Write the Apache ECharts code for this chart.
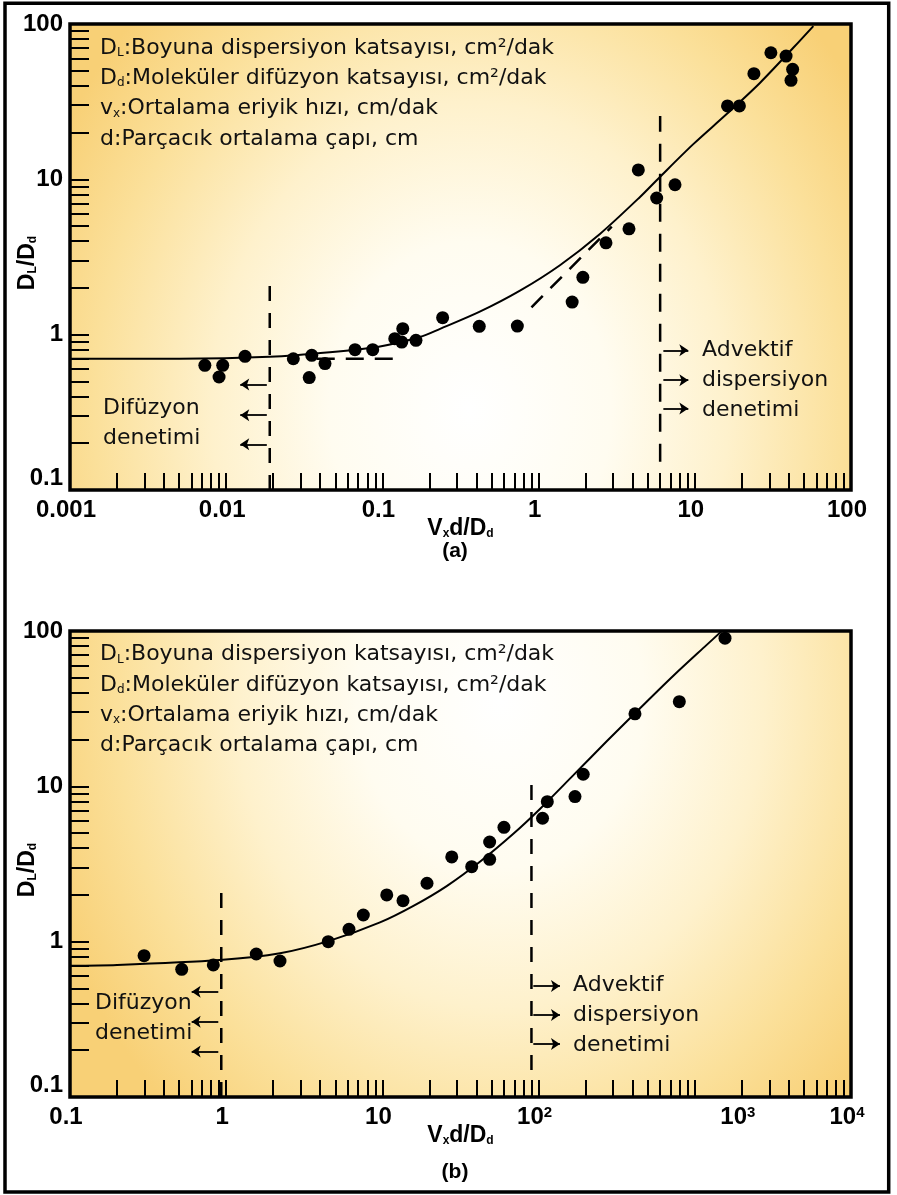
<!DOCTYPE html>
<html><head><meta charset="utf-8">
<script src="https://cdn.jsdelivr.net/npm/echarts@6/dist/echarts.min.js"></script>
<style>html,body{margin:0;padding:0;background:#fff}#c{width:897px;height:1195px}</style>
</head><body><div id="c"></div>
<script>
// ---------- tick labels ----------
const xTickLabelsA = ['0.001', '0.01', '0.1', '1', '10', '100'];
const xTickLabelsB = ['0.1', '1', '10', '10²', '10³', '10⁴'];
const yTickLabels = ['0.1', '1', '10', '100'];

// ---------- panel (a) ----------
const pointsA = [[0.0073,0.635],[0.0095,0.635],[0.0090,0.534],[0.0132,0.725],[0.0269,0.70],[0.0353,0.736],[0.0340,0.529],[0.0429,0.651],[0.0668,0.80],[0.0867,0.80],[0.120,0.943],[0.135,1.093],[0.133,0.896],[0.164,0.919],[0.243,1.286],[0.417,1.131],[0.731,1.136],[1.64,1.62],[1.92,2.34],[2.70,3.90],[3.79,4.80],[4.35,11.5],[5.70,7.58],[7.47,9.23],[16.2,29.7],[19.3,29.7],[23.9,47.9],[30.7,65.3],[38.4,62.2],[42.3,51.1],[41.3,43.4]];
const curveA = [[0.001,0.70],[0.005,0.70],[0.019,0.72],[0.046,0.77],[0.0965,0.84],[0.174,0.965],[0.234,1.09],[0.417,1.40],[0.76,1.92],[1.37,2.80],[2.47,4.45],[4.46,7.7],[6.0,10.4],[9.78,16.85],[16.0,26.3],[26.2,41.9],[42.7,70.3],[57.4,97]];
const diffusionLineA = [[0.019,0.1],[0.019,2.29]];
const advectionLineA = [[6.0,0.152],[6.0,25.6]];
const plateauLineA = [[0.038,0.70],[0.13,0.70]];
const slopeLineA = [[0.90,1.50],[2.94,4.96]];
const diffusionArrowsA = [[0.0182,0.0123,0.478],[0.0182,0.0123,0.303],[0.0182,0.0123,0.197]]; // [fromX,toX,y]
const advectionArrowsA = [[6.29,9.09,0.793],[6.29,9.09,0.509],[6.29,9.09,0.335]];

// ---------- panel (b) ----------
const pointsB = [[0.298,0.813],[0.519,0.664],[0.827,0.708],[1.558,0.833],[2.21,0.751],[4.50,1.0],[6.11,1.20],[7.55,1.485],[10.66,2.0],[13.55,1.837],[19.3,2.377],[27.8,3.51],[37.3,3.04],[48.6,3.39],[48.6,4.38],[60.0,5.45],[106,6.23],[113.7,7.97],[171,8.59],[193,11.96],[414,29.3],[796,35.1],[1561,89.9]];
const curveB = [[0.1,0.70],[0.2,0.708],[0.91,0.762],[2.21,0.842],[4.67,1.02],[9.65,1.33],[15.8,1.70],[25.8,2.28],[42.1,3.27],[68.9,4.95],[102,7.15],[167,11.8],[273,19.5],[446,31.8],[729,51.5],[1192,81.4],[1490,100]];
const diffusionLineB = [[0.93,0.1],[0.93,2.28]];
const advectionLineB = [[90,0.149],[90,10.2]];
const diffusionArrowsB = [[0.89,0.601,0.476],[0.89,0.601,0.305],[0.89,0.601,0.196]];
const advectionArrowsB = [[92.5,137,0.518],[92.5,137,0.337],[92.5,137,0.2195]];

// ---------- texts ----------
const legendTerms = [['D','L',':Boyuna dispersiyon katsayısı, cm²/dak'],['D','d',':Moleküler difüzyon katsayısı, cm²/dak'],['v','x',':Ortalama eriyik hızı, cm/dak'],['d','',':Parçacık ortalama çapı, cm']];
const diffusionText = ['Difüzyon', 'denetimi'];
const advectionText = ['Advektif', 'dispersiyon', 'denetimi'];
const panelTitles = ['(a)', '(b)'];

// ---------- helpers ----------
const BOLD = 'Liberation Sans';
const REG = 'DejaVu Sans';
function logTicks(lo, hi) {
  const out = [];
  for (let e = lo; e < hi; e++) for (let m = 1; m < 10; m++) out.push(+(m * Math.pow(10, e)).toPrecision(3));
  out.push(Math.pow(10, hi));
  return out;
}
function decades(lo, hi) { const out = []; for (let e = lo; e <= hi; e++) out.push(Math.pow(10, e)); return out; }

const nameRich = {
  m: {fontFamily: BOLD, fontWeight: 'bold', fontSize: 23, color: '#000'},
  s: {fontFamily: BOLD, fontWeight: 'bold', fontSize: 12, color: '#000', verticalAlign: 'bottom'}
};
const supDigit = {'²': '2', '³': '3', '⁴': '4'};

function xAxis(idx, lo, hi, labels) {
  return {
    type: 'log', logBase: 10, gridIndex: idx, min: Math.pow(10, lo), max: Math.pow(10, hi),
    axisLine: {show: false}, splitLine: {show: false}, minorTick: {show: false},
    axisTick: {show: true, inside: true, length: 17, lineStyle: {color: '#000', width: 2}, customValues: logTicks(lo, hi)},
    axisLabel: {
      customValues: decades(lo, hi), margin: 8, color: '#000', padding: [0, 8, 0, 0],
      fontFamily: BOLD, fontWeight: 'bold', fontSize: 24,
      formatter: function (v) {
        const lab = labels[Math.round(Math.log10(v)) - lo];
        const last = lab.slice(-1);
        if (supDigit[last]) {
          const base = lab === '10³' ? 'nsh' : 'n';
          return '{' + base + '|' + lab.slice(0, -1) + '}{s|' + supDigit[last] + '}';
        }
        return lab;
      },
      rich: {
        n: {fontFamily: BOLD, fontWeight: 'bold', fontSize: 24, color: '#000'},
        nsh: {fontFamily: BOLD, fontWeight: 'bold', fontSize: 24, color: '#000', padding: [0, 0, 0, 94]},
        s: {fontFamily: BOLD, fontWeight: 'bold', fontSize: 15, color: '#000', verticalAlign: 'top'}
      }
    },
    name: '{m|V}{s|x}{m|d/D}{s|d}', nameLocation: 'middle', nameGap: 27, nameMoveOverlap: false,
    nameTextStyle: {rich: nameRich}
  };
}
function yAxis(idx) {
  return {
    type: 'log', logBase: 10, gridIndex: idx, min: 0.1, max: 100,
    axisLine: {show: false}, splitLine: {show: false}, minorTick: {show: false},
    axisTick: {show: true, inside: true, length: 19, lineStyle: {color: '#000', width: 2}, customValues: logTicks(-1, 2)},
    axisLabel: {
      customValues: decades(-1, 2), margin: 7, color: '#000',
      fontFamily: BOLD, fontWeight: 'bold', fontSize: 24, verticalAlignMinLabel: 'bottom',
      formatter: function (v) { return yTickLabels[Math.round(Math.log10(v)) + 1]; }
    },
    name: '{m|D}{s|L}{m|/D}{s|d}', nameLocation: 'middle', nameRotate: 90, nameGap: 31, nameMoveOverlap: false,
    nameTextStyle: {rich: nameRich, padding: [0, 12, 0, 0]}
  };
}
function seriesFor(idx, points, curve, dashed, arrows) {
  const s = [];
  s.push({type: 'line', xAxisIndex: idx, yAxisIndex: idx, data: curve, smooth: 0.3, symbol: 'none',
    lineStyle: {color: '#000', width: 2}, z: 4, silent: true});
  dashed.forEach(function (d) {
    s.push({type: 'line', xAxisIndex: idx, yAxisIndex: idx, data: d[0], symbol: 'none',
      lineStyle: {color: '#000', width: 2.5, type: d[1]}, z: 3, silent: true});
  });
  s.push({type: 'scatter', xAxisIndex: idx, yAxisIndex: idx, data: points, symbol: 'circle', symbolSize: 13,
    itemStyle: {color: '#000', opacity: 1}, z: 5, clip: false, silent: true});
  s.push({type: 'line', xAxisIndex: idx, yAxisIndex: idx, data: [], silent: true,
    markLine: {silent: true, animation: false, symbol: ['none', 'arrow'], symbolSize: 9,
      lineStyle: {type: 'solid', color: '#000', width: 1.8}, label: {show: false},
      emphasis: {disabled: true},
      data: arrows.map(function (a) { return [{coord: [a[0], a[2]]}, {coord: [a[1], a[2]]}]; })}});
  return s;
}

// ---------- background gradients (elliptical, via scaled rect) ----------
const stops = [
  {offset: 0, color: '#FFFFFF'}, {offset: 0.3, color: '#FFFCF0'}, {offset: 0.55, color: '#FEF1CC'},
  {offset: 0.8, color: '#FBE09A'}, {offset: 1, color: '#F8D076'}];
function bg(left, top, w, h, cx, cy, rx, ry) {
  const k = ry / rx;
  return {type: 'rect', x: left, y: top, scaleY: k, z: -1, silent: true,
    shape: {x: 0, y: 0, width: w, height: h / k},
    style: {fill: {type: 'radial', x: cx, y: cy / k, r: rx, global: true, colorStops: stops}}};
}
function txt(x, y, text, opts) {
  return Object.assign({type: 'text', x: x, y: y, z: 10, silent: true,
    style: {text: text, font: '22px "DejaVu Sans"', fill: '#111', verticalAlign: 'middle'}}, opts || {});
}
function legend(top) {
  return legendTerms.map(function (t, i) {
    return {type: 'text', x: 100, y: top + i * 30.3, z: 10, silent: true,
      style: {text: t[0] + (t[1] ? '{s|' + t[1] + '}' : '') + t[2], font: '22px "DejaVu Sans"', fill: '#111',
        verticalAlign: 'middle',
        rich: {s: {fontSize: 12, fontFamily: REG, fill: '#111', verticalAlign: 'bottom'}}}};
  });
}

const graphic = [].concat(
  [bg(70, 24, 781, 466, 400, 386, 470, 560), bg(70, 631, 781, 466, 430, 69, 480, 560)],
  [{type: 'rect', z: 20, silent: true, shape: {x: 5, y: 3.3, width: 883.7, height: 1188.7},
    style: {fill: 'none', stroke: '#000', lineWidth: 3.5}}],
  legend(48), legend(654.5),
  [txt(103, 408, diffusionText[0]), txt(103, 438, diffusionText[1]),
   txt(702, 350, advectionText[0]), txt(702, 380, advectionText[1]), txt(702, 410, advectionText[2]),
   txt(95, 1003, diffusionText[0]), txt(95, 1033, diffusionText[1]),
   txt(573, 985, advectionText[0]), txt(573, 1015, advectionText[1]), txt(573, 1045, advectionText[2])],
  [{type: 'text', x: 455, y: 551, z: 10, silent: true, style: {text: panelTitles[0], font: 'bold 21px "Liberation Sans"', fill: '#000', align: 'center', verticalAlign: 'middle'}},
   {type: 'text', x: 455, y: 1172, z: 10, silent: true, style: {text: panelTitles[1], font: 'bold 21px "Liberation Sans"', fill: '#000', align: 'center', verticalAlign: 'middle'}}]
);

const option = {
  animation: false,
  backgroundColor: '#ffffff',
  grid: [
    {left: 70, top: 24, width: 781, height: 466, show: true, borderColor: '#000', borderWidth: 3.5, backgroundColor: 'transparent', containLabel: false, outerBoundsMode: 'none'},
    {left: 70, top: 631, width: 781, height: 466, show: true, borderColor: '#000', borderWidth: 3.5, backgroundColor: 'transparent', containLabel: false, outerBoundsMode: 'none'}
  ],
  xAxis: [xAxis(0, -3, 2, xTickLabelsA), xAxis(1, -1, 4, xTickLabelsB)],
  yAxis: [yAxis(0), yAxis(1)],
  graphic: graphic,
  series: [].concat(
    seriesFor(0, pointsA, curveA,
      [[diffusionLineA, [15, 12]], [advectionLineA, [18, 12]], [plateauLineA, [18, 11]], [slopeLineA, [16, 11]]],
      diffusionArrowsA.concat(advectionArrowsA)),
    seriesFor(1, pointsB, curveB,
      [[diffusionLineB, [15, 12]], [advectionLineB, [15, 12]]],
      diffusionArrowsB.concat(advectionArrowsB))
  )
};
const chart = echarts.init(document.getElementById('c'), null, {renderer: 'canvas'});
chart.setOption(option);
</script>
</body></html>
